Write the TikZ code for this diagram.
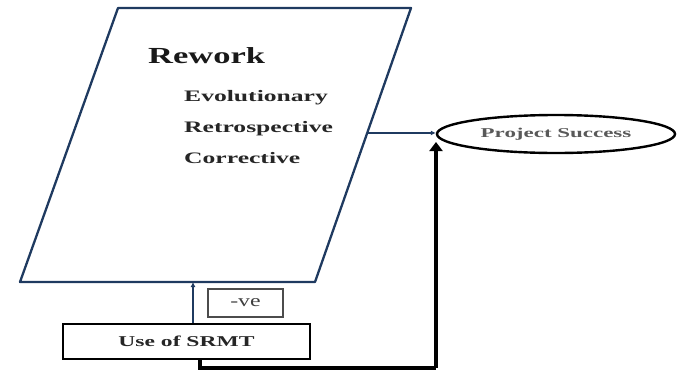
\documentclass[tikz,border=0pt]{standalone}
\usepackage{fontspec}
\setmainfont{Liberation Serif}
\usetikzlibrary{arrows.meta,shapes.geometric,calc}
\definecolor{navy}{HTML}{1F3A60}
\definecolor{txtgray}{HTML}{262626}
\tikzset{
  para/.style={draw=navy,line width=2.3pt,line join=round},
  lbl/.style={anchor=base west,inner sep=0pt,text=txtgray,font=\bfseries},
  boxed/.style={draw=black,line width=2.2pt,rectangle,inner sep=0pt},
  thickarrow/.style={line width=3.3pt,-{Triangle[length=9pt,width=13pt]}},
  bluearrow/.style={draw=navy,line width=1.8pt,-{Latex[length=5pt,width=5pt]}}
}
\begin{document}
\begin{tikzpicture}[x=1pt,y=-1pt]
\useasboundingbox (0,0) rectangle (679,375);
% parallelogram
\coordinate (tl) at (118,8);
\coordinate (tr) at (411,8);
\coordinate (br) at (315,282);
\coordinate (bl) at (20,282);
\draw[para] (tl) -- (tr) -- (br) -- (bl) -- cycle;
\coordinate (pr) at ($(tr)!0.456!(br)$);
\coordinate (pb) at (193,282);
% texts
\node[lbl,font=\bfseries\fontsize{23}{23}\selectfont,text=black!90] (rw) at (148,63) {\scalebox{1.5}[1]{Rework}};
\node[lbl,font=\bfseries\fontsize{16}{16}\selectfont] (ev) at (184,101) {\scalebox{1.6}[1]{Evolutionary}};
\node[lbl,font=\bfseries\fontsize{16}{16}\selectfont] (re) at (184,132) {\scalebox{1.6}[1]{Retrospective}};
\node[lbl,font=\bfseries\fontsize{16}{16}\selectfont] (co) at (184,163) {\scalebox{1.6}[1]{Corrective}};
% ellipse
\node[ellipse,draw=black,line width=2.4pt,minimum width=238pt,minimum height=38pt,inner sep=0pt,
      font=\bfseries\fontsize{13.5}{13.5}\selectfont,text=black!65] (ps) at (556,134) {\scalebox{1.7}[1]{Project Success}};
% SRMT box
\node[boxed,minimum width=247pt,minimum height=35pt,font=\bfseries\fontsize{15}{15}\selectfont,text=txtgray] (srmt) at (186.5,341.5) {\scalebox{1.57}[1]{Use of SRMT}};
% -ve box
\node[draw=black!70,line width=1.6pt,rectangle,minimum width=75pt,minimum height=28pt,inner sep=0pt,
      font=\fontsize{17}{17}\selectfont,text=black!75] (ve) at (245.5,303) {\scalebox{1.4}[1]{-ve}};
% connectors
\draw[bluearrow] (srmt.north -| pb) -- (pb);
\draw[bluearrow] (pr) -- (pr -| ps.west);
\coordinate (c1) at (200,368);
\coordinate (c2) at (436,368);
\draw[line width=3.3pt] (srmt.south -| c1) -- (c1) -- (c2);
\draw[thickarrow] (c2) -- (436,142);
\end{tikzpicture}
\end{document}
